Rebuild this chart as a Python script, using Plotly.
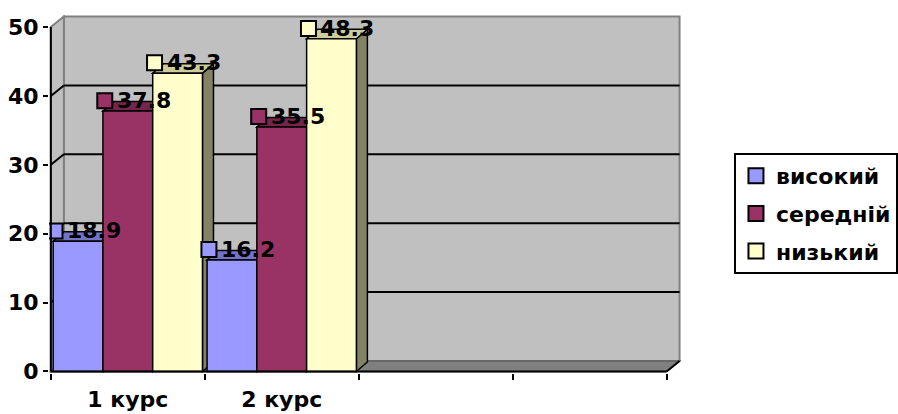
import plotly.graph_objects as go

# ---- data ----
categories = ["1 курс", "2 курс"]
n_slots = 4                      # category slots on the axis (two left empty)
series_names = ["високий", "середній", "низький"]
high = [18.9, 16.2]
mid = [37.8, 35.5]
low = [43.3, 48.3]
y_ticks = [0, 10, 20, 30, 40, 50]

series_values = [high, mid, low]
front_colors = ["#9999FF", "#993366", "#FFFFCC"]
top_colors = ["#7373C8", "#74264D", "#CCCC9C"]
side_colors = ["#5C5C99", "#5C1F3D", "#838364"]

# ---- geometry of the pseudo-3D box (pixels per unit) ----
W, H = 898, 414
X0PX, UX = 51.0, 153.9          # x=0 pixel and pixels per category slot
Y0PX, UY = 371.5, 6.89           # y=0 pixel and pixels per value unit
DX, DY = 13 / UX, 10.5 / UY      # depth of walls
BDX, BDY = 11 / UX, 9.5 / UY     # depth of bars
YMAX = y_ticks[-1]

# the plotting area runs to the right edge so the legend sits inside it
m_r = 0
xr = [-0.012, (W - m_r - X0PX) / UX]
yr = [-0.22, YMAX + DY + 0.22]
m_l = X0PX + xr[0] * UX
plot_w = (xr[1] - xr[0]) * UX
m_t = Y0PX - yr[1] * UY
m_b = H - (Y0PX - yr[0] * UY)
plot_h = (yr[1] - yr[0]) * UY

bargap = 0.03
bw = (1 - bargap) / len(series_names)

FONT = dict(family="DejaVu Sans", size=22, color="black", weight="bold")
WALL = "#C0C0C0"
FLOOR = "#808080"
EDGE = "#808080"


def path(pts):
    return "M " + " L ".join(f"{x:.5f},{y:.5f}" for x, y in pts) + " Z"


shapes = []
# back wall, left wall, floor
shapes.append(dict(type="path", path=path([(DX, DY), (n_slots + DX, DY), (n_slots + DX, YMAX + DY), (DX, YMAX + DY)]),
                   fillcolor=WALL, line=dict(color=EDGE, width=2)))
shapes.append(dict(type="path", path=path([(0, 0), (DX, DY), (DX, YMAX + DY), (0, YMAX)]),
                   fillcolor=WALL, line=dict(color=EDGE, width=2)))
shapes.append(dict(type="path", path=path([(0, 0), (n_slots, 0), (n_slots + DX, DY), (DX, DY)]),
                   fillcolor=FLOOR, line=dict(color="#606060", width=1.5)))
# gridlines on back and side wall
for v in y_ticks[1:-1]:
    shapes.append(dict(type="line", x0=DX, x1=n_slots + DX, y0=v + DY, y1=v + DY, line=dict(color="black", width=2)))
    shapes.append(dict(type="line", x0=0, x1=DX, y0=v, y1=v + DY, line=dict(color="black", width=2)))

# side and top faces of the columns
for c in range(len(categories)):
    for k, vals in enumerate(series_values):
        v = vals[c]
        x0 = c + bargap / 2 + k * bw
        x1 = x0 + bw
        shapes.append(dict(type="path", path=path([(x1, 0), (x1 + BDX, BDY), (x1 + BDX, v + BDY), (x1, v)]),
                           fillcolor=side_colors[k], line=dict(color="black", width=1.5)))
        shapes.append(dict(type="path", path=path([(x0, v), (x1, v), (x1 + BDX, v + BDY), (x0 + BDX, v + BDY)]),
                           fillcolor=top_colors[k], line=dict(color="black", width=1.5)))

for s in shapes:
    s.update(xref="x", yref="y", layer="below")

# front axis lines
axis_lines = [
    dict(x0=0, x1=0, y0=0, y1=YMAX),
    dict(x0=0, x1=n_slots, y0=0, y1=0),
    dict(x0=n_slots, x1=n_slots + DX, y0=0, y1=DY),
]
for a in axis_lines:
    shapes.append(dict(type="line", xref="x", yref="y", layer="above", line=dict(color="black", width=2), **a))

fig = go.Figure()
xpos = [c + 0.5 for c in range(len(categories))]
for k, (name, vals) in enumerate(zip(series_names, series_values)):
    fig.add_trace(go.Bar(
        x=xpos, y=vals, width=bw, offset=-0.5 + bargap / 2 + k * bw,
        marker=dict(color=front_colors[k], line=dict(color="black", width=1.5)),
        showlegend=False, hoverinfo="skip",
    ))

annotations = []
for k, (name, vals) in enumerate(zip(series_names, series_values)):
    kx = [c + bargap / 2 + k * bw + 0.012 for c in range(len(categories))]
    ky = [v + 1.5 for v in vals]
    fig.add_trace(go.Scatter(
        x=kx, y=ky, mode="markers", name=name, legendgroup=name,
        marker=dict(symbol="square", size=15, color=front_colors[k], line=dict(color="black", width=2)),
        hoverinfo="skip",
    ))
    for x, y, v in zip(kx, ky, vals):
        annotations.append(dict(x=x, y=y, xref="x", yref="y", text=f"{v:.1f}", showarrow=False,
                                xanchor="left", yanchor="middle", xshift=10, font=FONT))

fig.update_layout(
    width=W, height=H,
    margin=dict(l=m_l, r=m_r, t=m_t, b=m_b, pad=0),
    paper_bgcolor="white", plot_bgcolor="white",
    barmode="overlay",
    shapes=shapes, annotations=annotations,
    showlegend=True,
    legend=dict(
        x=(734 - m_l) / plot_w, y=(Y0PX - yr[0] * UY - 153) / plot_h,
        xanchor="left", yanchor="top",
        bgcolor="white", bordercolor="black", borderwidth=2,
        font=FONT, tracegroupgap=6, itemsizing="trace",
    ),
    xaxis=dict(
        range=xr, showgrid=False, zeroline=False, showline=False, automargin=False,
        tickmode="array", tickvals=xpos, ticktext=categories, ticks="",
        tickfont=FONT, ticklabelstandoff=11,
        minor=dict(ticks="outside", tickmode="array", tickvals=list(range(n_slots + 1)),
                   ticklen=6, tickwidth=2, tickcolor="black", showgrid=False),
    ),
    yaxis=dict(
        range=yr, showgrid=False, zeroline=False, showline=False, automargin=False,
        tickmode="array", tickvals=y_ticks, ticks="outside", ticklen=5, tickwidth=2, tickcolor="black",
        tickfont=FONT,
    ),
)

fig.write_html("out.html")
